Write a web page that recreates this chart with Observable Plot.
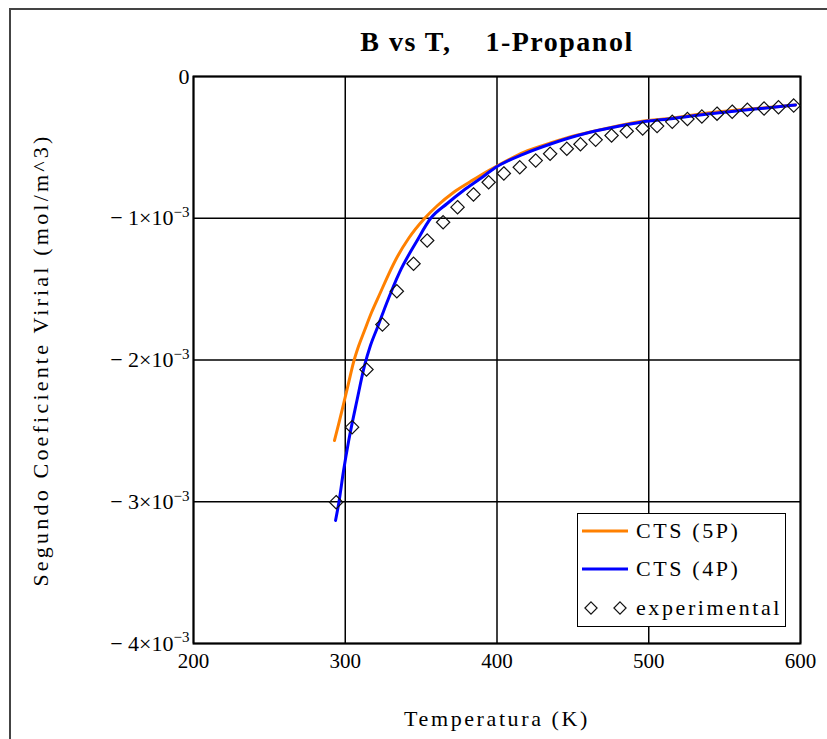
<!DOCTYPE html>
<html>
<head>
<meta charset="utf-8">
<script src="https://cdn.jsdelivr.net/npm/d3@7"></script>
<script src="https://cdn.jsdelivr.net/npm/@observablehq/plot@0.6"></script>
<style>
  body { margin: 0; background: #fff; }
  #wrap { position: relative; width: 827px; height: 739px; overflow: hidden; background: #fff; }
  #border { position: absolute; left: 9px; top: 8px; width: 900px; height: 800px;
            border-left: 2px solid #444; border-top: 2px solid #444; pointer-events: none; }
  #legend { position: absolute; left: 577px; top: 513px; width: 207px; height: 112px;
            border: 1.5px solid #000; background: #fff;
            font-family: "Liberation Serif", "Times New Roman", serif; font-size: 22px; letter-spacing: 2.6px; }
  #legend .row { position: absolute; left: 0; height: 30px; display: flex; align-items: center; }
  #legend .row svg { margin-left: 3px; }
  #legend .row span { position: absolute; left: 58px; white-space: nowrap; }
</style>
</head>
<body>
<div id="wrap"><div id="chart"></div><div id="border"></div><div id="legend"></div></div>
<script>
// ---- data ----
const titleText = "B vs T,\u00a0\u00a0\u00a0 1-Propanol";
const xLabelText = "Temperatura (K)";
const yLabelText = "Segundo Coeficiente Virial (mol/m^3)";
const xTicks = [200, 300, 400, 500, 600];
const yTicks = [0, -1e-3, -2e-3, -3e-3, -4e-3];

const seriesNames = ["CTS (5P)", "CTS (4P)", "experimental"];
const seriesColors = ["#ff8000", "#0000ff", "#000000"];

// experimental points
const tempExp = [294, 304.5, 314, 324.5, 334, 345, 354, 364.5, 374, 384.5, 394.5, 404.5, 415, 425.5, 435,
                 446, 455, 465, 475.5, 485.5, 496, 505.5, 515.5, 525.5, 535, 545, 555, 565, 576, 585.5, 595.5];
const bExp = [-3.003e-3, -2.474e-3, -2.067e-3, -1.750e-3, -1.515e-3, -1.321e-3, -1.157e-3, -1.028e-3, -0.922e-3,
              -0.832e-3, -0.746e-3, -0.684e-3, -0.640e-3, -0.593e-3, -0.545e-3, -0.510e-3, -0.478e-3, -0.447e-3,
              -0.416e-3, -0.386e-3, -0.367e-3, -0.350e-3, -0.320e-3, -0.300e-3, -0.282e-3, -0.262e-3, -0.248e-3,
              -0.235e-3, -0.226e-3, -0.217e-3, -0.205e-3];

// CTS (5P) curve
const temp5P = [292.9, 295.6, 298.8, 302.1, 305.4, 308.7, 312.7, 317.3, 322.6, 328.5, 334.4, 341.7, 352.2, 360.8,
                371.3, 382.5, 393.7, 402.3, 417.5, 435.3, 453.1, 468.2, 494.6, 516.3, 538.7, 560.5, 582.2, 596.7];
const b5P = [-2.568e-3, -2.455e-3, -2.314e-3, -2.166e-3, -2.018e-3, -1.905e-3, -1.792e-3, -1.665e-3, -1.538e-3,
             -1.397e-3, -1.270e-3, -1.143e-3, -1.002e-3, -0.910e-3, -0.818e-3, -0.741e-3, -0.668e-3, -0.618e-3,
             -0.535e-3, -0.469e-3, -0.413e-3, -0.376e-3, -0.318e-3, -0.293e-3, -0.257e-3, -0.235e-3, -0.216e-3, -0.201e-3];

// CTS (4P) curve
const temp4P = [293.6, 295.8, 298.8, 302.3, 307.7, 312.7, 316.6, 321.6, 327.2, 335.7, 347.0, 356.2, 367.2, 377.9,
                389.1, 399.0, 417.5, 435.3, 453.1, 466.2, 476.8, 494.6, 516.3, 538.7, 560.5, 582.2, 596.7];
const b4P = [-3.132e-3, -3.005e-3, -2.787e-3, -2.568e-3, -2.286e-3, -2.040e-3, -1.898e-3, -1.760e-3, -1.601e-3,
             -1.383e-3, -1.164e-3, -1.002e-3, -0.896e-3, -0.804e-3, -0.720e-3, -0.642e-3, -0.547e-3, -0.476e-3,
             -0.416e-3, -0.381e-3, -0.358e-3, -0.322e-3, -0.296e-3, -0.265e-3, -0.240e-3, -0.217e-3, -0.201e-3];

// ---- tables ----
const exp = tempExp.map((t, i) => ({T: t, B: bExp[i]}));
const c5 = temp5P.map((t, i) => ({T: t, B: b5P[i]}));
const c4 = temp4P.map((t, i) => ({T: t, B: b4P[i]}));

const yFmt = d => d === 0 ? "0" : "\u2212 " + Math.round(-d * 1000) + "\u00d710";
const serif = "'Liberation Serif', 'Times New Roman', serif";

const chart = Plot.plot({
  width: 827,
  height: 739,
  marginLeft: 193,
  marginRight: 27,
  marginTop: 76,
  marginBottom: 96,
  x: {domain: [200, 600]},
  y: {domain: [-0.004, 0]},
  style: {fontFamily: serif, fontSize: "20px", color: "#000", background: "transparent"},
  marks: [
    Plot.gridX(xTicks, {stroke: "#000", strokeOpacity: 1, strokeWidth: 1.5}),
    Plot.gridY(yTicks, {stroke: "#000", strokeOpacity: 1, strokeWidth: 1.5}),
    Plot.frame({stroke: "#000", strokeWidth: 2}),
    Plot.axisX(xTicks, {tickSize: 0, tickPadding: 10, fontSize: 21, label: null}),
    Plot.axisY(yTicks, {tickSize: 0, tickPadding: 4, fontSize: 22, tickFormat: yFmt, label: null}),
    Plot.line(c5, {x: "T", y: "B", stroke: seriesColors[0], strokeWidth: 3, curve: "monotone-x"}),
    Plot.line(c4, {x: "T", y: "B", stroke: seriesColors[1], strokeWidth: 3, curve: "monotone-x"}),
    Plot.dot(exp, {x: "T", y: "B", symbol: "diamond2", r: 6, stroke: "#111", strokeWidth: 1.2, fill: "none"}),
    Plot.text([titleText], {text: d => d, frameAnchor: "top", dy: -34, fontSize: 28, fontWeight: "bold",
                            lineAnchor: "middle"}),
    Plot.text([xLabelText], {text: d => d, frameAnchor: "bottom", dy: 75, fontSize: 22,
                             lineAnchor: "middle"}),
    Plot.text([yLabelText], {text: d => d, frameAnchor: "left", dx: -153, rotate: -90, fontSize: 22,
                             textAnchor: "middle", lineAnchor: "middle"})
  ]
});
document.getElementById("chart").appendChild(chart);

// text spacing and superscript exponents
const svgSel = d3.select(chart);
svgSel.selectAll("text").each(function () {
  const t = this.textContent;
  const s = d3.select(this);
  if (t === titleText) s.style("letter-spacing", "1.5px");
  else if (t === xLabelText) s.style("letter-spacing", "2.6px");
  else if (t === yLabelText) s.style("letter-spacing", "3.2px");
  else if (/\u00d710$/.test(t)) {
    s.append("tspan").attr("dy", "-0.55em").attr("font-size", 15).text("\u22123");
  }
});

// ---- legend ----
const legend = d3.select("#legend");
const rowTops = [2, 40, 79];
seriesNames.forEach((name, i) => {
  const row = legend.append("div").attr("class", "row").style("top", rowTops[i] + "px").style("width", "207px");
  const svg = row.append("svg").attr("width", 50).attr("height", 30);
  if (i < 2) {
    svg.append("line").attr("x1", 1).attr("x2", 47).attr("y1", 15).attr("y2", 15)
       .attr("stroke", seriesColors[i]).attr("stroke-width", 3);
  } else {
    [10, 39].forEach(cx => {
      svg.append("path").attr("d", d3.symbol(d3.symbolDiamond2, Math.PI * 30)())
         .attr("transform", `translate(${cx},15)`).attr("fill", "none").attr("stroke", "#111").attr("stroke-width", 1.2);
    });
  }
  row.append("span").text(name);
});
</script>
</body>
</html>
